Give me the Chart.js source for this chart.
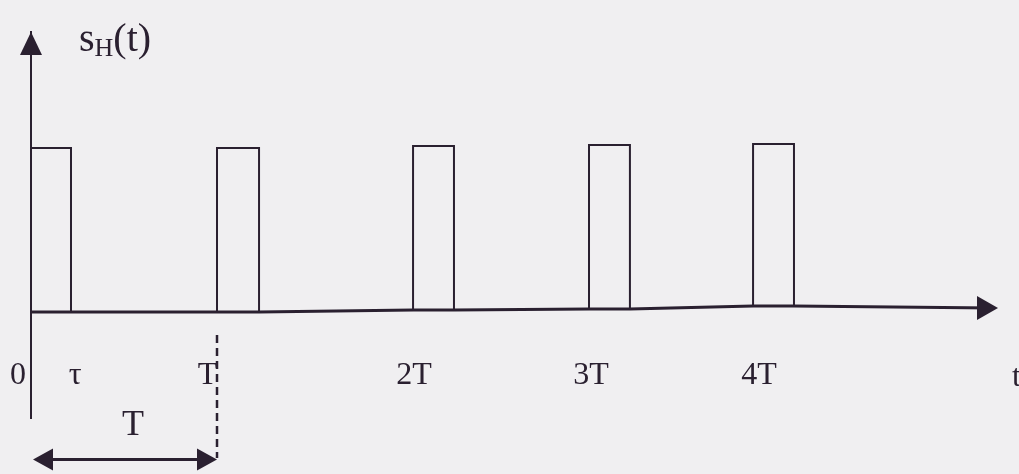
<!DOCTYPE html>
<html>
<head>
<meta charset="utf-8">
<script src="https://cdn.jsdelivr.net/npm/chart.js@4/dist/chart.umd.min.js"></script>
<style>
    html, body { margin: 0; padding: 0; background: #f0eff1; }
    #wrap { width: 1019px; height: 474px; position: relative; }
</style>
</head>
<body>
<div id="wrap"><canvas id="pulseChart"></canvas></div>
<script>
// --- Data (t in units of T, amplitude 1 = pulse height) ---
const pulseStart = [0, 1.0, 2.054, 3.0, 3.882];
const pulseEnd   = [0.215, 1.226, 2.274, 3.22, 4.102];
const pulseHigh  = [1.0, 1.0, 1.012, 1.018, 1.024];
const baseLevel  = [0, 0, 0.012, 0.018, 0.037];
const axisEnd = 5.199;
const axisEndLevel = 0.024;

const tickValues = [-0.07, 0.237, 0.949, 2.059, 3.011, 3.914];
const tickLabels = ['0', 'τ', 'T', '2T', '3T', '4T'];

const xRange = [-0.1667, 5.3118];
const yRange = [-0.6463, 1.7073];

// period marker below the axis
const markerTop = -0.14;
const markerBottom = -0.89;
const spanLevel = -0.9;

const ink = '#2a2030';
const serif = "'Liberation Serif', 'DejaVu Serif', serif";

// --- Build the pulses and the time axis line from the arrays ---
const pulses = [];
const baseline = [];
pulseStart.forEach((s, i) => {
    pulses.push({ x: s, y: baseLevel[i] });
    pulses.push({ x: s, y: pulseHigh[i] });
    pulses.push({ x: pulseEnd[i], y: pulseHigh[i] });
    pulses.push({ x: pulseEnd[i], y: baseLevel[i] });
    pulses.push({ x: pulseEnd[i], y: null });
    baseline.push({ x: s, y: baseLevel[i] });
    baseline.push({ x: pulseEnd[i], y: baseLevel[i] });
});
baseline.push({ x: axisEnd - 0.03, y: axisEndLevel });

function arrowHead(ctx, x, y, dx, dy, len, half) {
    // dx, dy: unit direction the tip points to
    const bx = x - dx * len, by = y - dy * len;
    ctx.beginPath();
    ctx.moveTo(x, y);
    ctx.lineTo(bx - dy * half, by + dx * half);
    ctx.lineTo(bx + dy * half, by - dx * half);
    ctx.closePath();
    ctx.fill();
}

const decorations = {
    id: 'decorations',
    afterDraw(chart) {
        const { ctx, scales: { x, y } } = chart;
        ctx.save();
        ctx.fillStyle = ink;

        // axis arrows
        arrowHead(ctx, x.getPixelForValue(0), y.top, 0, -1, 23, 11);
        arrowHead(ctx, x.getPixelForValue(axisEnd), y.getPixelForValue(axisEndLevel), 1, 0, 21, 12);

        // double arrow for the period
        const sy = y.getPixelForValue(spanLevel);
        arrowHead(ctx, x.getPixelForValue(pulseStart[0]) + 2, sy, -1, 0, 20, 11);
        arrowHead(ctx, x.getPixelForValue(pulseStart[1]), sy, 1, 0, 20, 11);

        // labels
        ctx.textBaseline = 'alphabetic';
        ctx.textAlign = 'left';
        let px = x.getPixelForValue(0) + 48;
        const by = y.top + 19;
        ctx.font = '40px ' + serif;
        ctx.fillText('s', px, by);
        px += ctx.measureText('s').width;
        ctx.font = '26px ' + serif;
        ctx.fillText('H', px, by + 5);
        px += ctx.measureText('H').width;
        ctx.font = '40px ' + serif;
        ctx.fillText('(t)', px, by);

        ctx.font = '32px ' + serif;
        ctx.fillText('t', x.getPixelForValue(axisEnd) + 14, y.getPixelForValue(0) + 74);

        ctx.textAlign = 'center';
        ctx.font = '36px ' + serif;
        ctx.fillText('T', x.getPixelForValue((pulseStart[0] + pulseStart[1]) / 2) + 9, y.getPixelForValue(spanLevel) - 25);
        ctx.restore();
    }
};

const canvas = document.getElementById('pulseChart');
new Chart(canvas, {
    type: 'line',
    data: {
        datasets: [
            {
                data: baseline,
                borderColor: ink,
                borderWidth: 3,
                pointRadius: 0,
                tension: 0,
                clip: false
            },
            {
                data: pulses,
                borderColor: ink,
                borderWidth: 2,
                pointRadius: 0,
                tension: 0,
                spanGaps: false,
                clip: false
            },
            {
                data: [{ x: pulseStart[1], y: markerTop }, { x: pulseStart[1], y: markerBottom }],
                borderColor: ink,
                borderWidth: 2.5,
                borderDash: [8, 5],
                pointRadius: 0,
                clip: false
            },
            {
                data: [{ x: pulseStart[0] + 0.08, y: spanLevel }, { x: pulseStart[1] - 0.08, y: spanLevel }],
                borderColor: ink,
                borderWidth: 3,
                pointRadius: 0,
                clip: false
            }
        ]
    },
    options: {
        responsive: true,
        maintainAspectRatio: false,
        animation: false,
        events: [],
        layout: { padding: { left: 0, right: 0, top: 32, bottom: 56 } },
        plugins: {
            legend: { display: false },
            tooltip: { enabled: false }
        },
        scales: {
            x: {
                type: 'linear',
                bounds: 'data',
                min: xRange[0],
                max: xRange[1],
                position: { y: 0 },
                grid: { display: false, drawTicks: true, tickLength: 44 },
                border: { display: false },
                afterBuildTicks: axis => {
                    axis.ticks = tickValues.map(v => ({ value: v }));
                },
                ticks: {
                    autoSkip: false,
                    maxRotation: 0,
                    padding: 0,
                    color: ink,
                    font: { family: serif, size: 32 },
                    callback: (v, i) => tickLabels[i]
                }
            },
            y: {
                type: 'linear',
                min: yRange[0],
                max: yRange[1],
                position: { x: 0 },
                grid: { display: false, drawTicks: false },
                border: { display: true, color: ink, width: 2 },
                ticks: { display: false }
            }
        }
    },
    plugins: [decorations]
});
</script>
</body>
</html>
